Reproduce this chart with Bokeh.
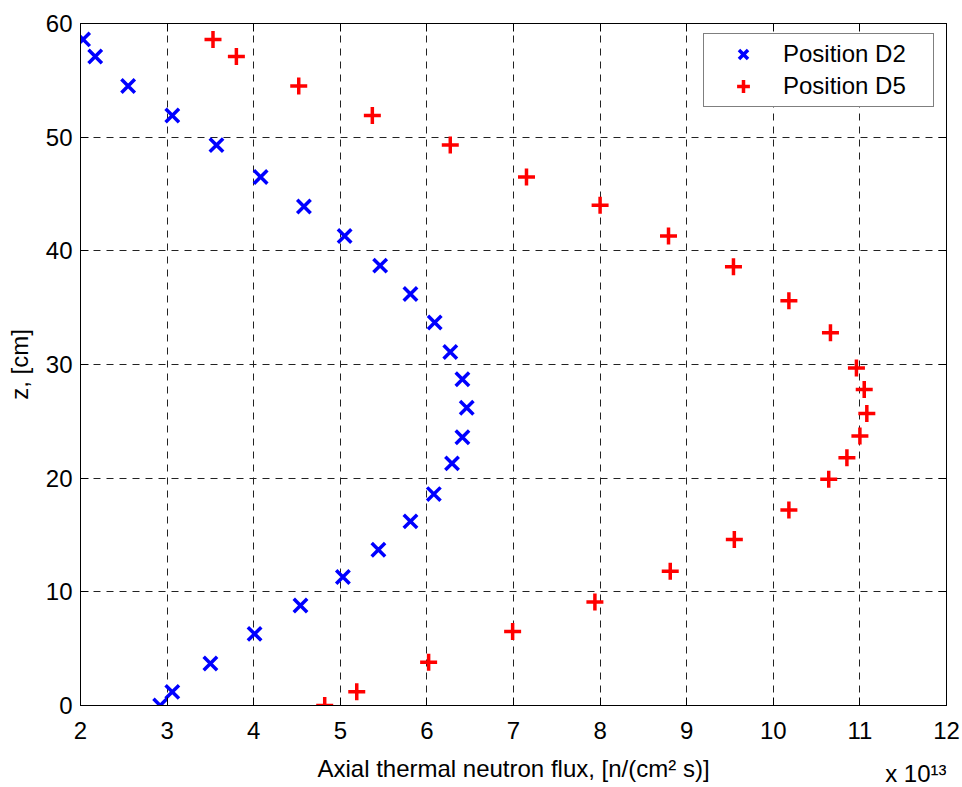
from bokeh.plotting import figure
from bokeh.layouts import column
from bokeh.models import (LinearAxis, Legend, LegendItem, Label, Range1d,
                          FixedTicker)
from bokeh.embed import file_html
from bokeh.resources import INLINE

# ---- data (flux in units of 1e13 n/(cm^2 s), z in cm) ----
d2_flux = [2.03, 2.17, 2.55, 3.06, 3.57, 4.08, 4.58, 5.05, 5.46, 5.81, 6.09,
           6.27, 6.41, 6.46, 6.41, 6.29, 6.08, 5.81, 5.44, 5.03, 4.54, 4.01,
           3.50, 3.06, 2.92]
d2_z = [58.6, 57.1, 54.5, 51.9, 49.3, 46.5, 43.9, 41.3, 38.7, 36.2, 33.7,
        31.1, 28.7, 26.2, 23.6, 21.3, 18.6, 16.2, 13.7, 11.3, 8.8, 6.3,
        3.7, 1.2, 0.0]

d5_flux = [3.53, 3.80, 4.52, 5.37, 6.27, 7.15, 8.00, 8.79, 9.54, 10.18, 10.66,
           10.96, 11.05, 11.08, 11.00, 10.85, 10.64, 10.18, 9.55, 8.81, 7.94,
           6.99, 6.02, 5.19, 4.82]
d5_z = [58.6, 57.1, 54.5, 51.9, 49.3, 46.5, 44.0, 41.3, 38.6, 35.6, 32.8,
        29.7, 27.8, 25.7, 23.7, 21.8, 19.9, 17.2, 14.6, 11.8, 9.1,
        6.5, 3.8, 1.2, 0.0]

x_ticks = [2, 3, 4, 5, 6, 7, 8, 9, 10, 11, 12]
y_ticks = [0, 10, 20, 30, 40, 50, 60]
x_label = "Axial thermal neutron flux, [n/(cm\u00b2 s)]"
y_label = "z, [cm]"
x_multiplier = "x 10\u00b9\u00b3"

FONT = "Liberation Sans"
FS = "24px"

p = figure(width=962, height=750, output_backend="svg", toolbar_location=None,
           x_range=Range1d(2, 12), y_range=Range1d(0, 60),
           min_border_left=80, min_border_right=16, min_border_top=23,
           min_border_bottom=45, background_fill_color="white",
           border_fill_color="white")

p.outline_line_color = "black"
p.outline_line_width = 1

r_d2 = p.scatter(d2_flux, d2_z, marker="x", size=19, line_width=3.5,
                 line_color="#0000FF")
r_d5 = p.scatter(d5_flux, d5_z, marker="cross", size=17, line_width=3.5,
                 line_color="#FF0000")

# grid
for g in (p.xgrid, p.ygrid):
    g.grid_line_color = "#222222"
    g.grid_line_dash = "7 6"
    g.grid_line_width = 1
p.xgrid.ticker = FixedTicker(ticks=x_ticks)
p.ygrid.ticker = FixedTicker(ticks=y_ticks)

def style_axis(ax, ticks, labels=True):
    ax.ticker = FixedTicker(ticks=ticks)
    ax.minor_tick_line_color = None
    ax.major_tick_in = 8
    ax.major_tick_out = 0
    ax.major_tick_line_color = "black"
    ax.axis_line_color = "black"
    ax.major_label_text_font = FONT
    ax.major_label_text_font_size = FS
    ax.major_label_text_color = "black"
    ax.axis_label_text_font = FONT
    ax.axis_label_text_font_size = FS
    ax.axis_label_text_font_style = "normal"
    ax.axis_label_text_color = "black"
    if not labels:
        ax.major_label_overrides = {t: "" for t in ticks}

xa = p.xaxis[0]
ya = p.yaxis[0]
style_axis(xa, x_ticks)
style_axis(ya, y_ticks)
ya.axis_label = y_label
xa.major_label_standoff = 16
ya.major_label_standoff = 8
ya.axis_label_standoff = 10

ra = LinearAxis()
style_axis(ra, y_ticks, labels=False)
ra.major_label_standoff = 0
p.add_layout(ra, "right")
ta = LinearAxis()
style_axis(ta, x_ticks, labels=False)
ta.major_label_standoff = 0
p.add_layout(ta, "above")

legend = Legend(items=[LegendItem(label="Position D2", renderers=[r_d2]),
                       LegendItem(label="Position D5", renderers=[r_d5])],
                location=(623, 598), margin=0, padding=4, spacing=0,
                label_height=32, glyph_height=32, glyph_width=70,
                label_standoff=5, label_width=146,
                label_text_font=FONT, label_text_font_size=FS,
                label_text_color="black",
                border_line_color="black", border_line_width=1,
                background_fill_color="white", background_fill_alpha=1)
p.add_layout(legend)

# strip below the axes holding the x-axis title and the multiplier
p2 = figure(width=962, height=37, output_backend="svg", toolbar_location=None,
            x_range=Range1d(2, 12), y_range=Range1d(0, 37),
            min_border_left=80, min_border_right=16, min_border_top=0,
            min_border_bottom=0, x_axis_type=None, y_axis_type=None,
            background_fill_color="white", border_fill_color="white")
p2.outline_line_color = None
p2.grid.visible = False
p2.add_layout(Label(x=7, y=19, text=x_label, text_align="center",
                    text_baseline="alphabetic", text_font=FONT,
                    text_font_size=FS, text_color="black"))
p2.add_layout(Label(x=12, y=14, text=x_multiplier, text_align="right",
                    text_baseline="alphabetic", text_font=FONT,
                    text_font_size=FS, text_color="black"))

layout = column(p, p2, spacing=0)
open("out.html", "w").write(file_html(layout, INLINE))
